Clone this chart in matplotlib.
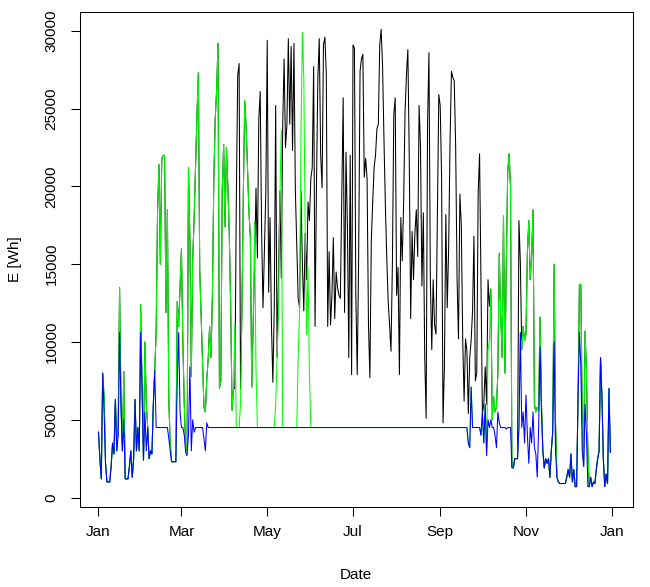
import numpy as np
import matplotlib
matplotlib.use("Agg")
import matplotlib.pyplot as plt
import matplotlib.dates as mdates

plt.rcParams['font.family'] = ['Liberation Sans', 'DejaVu Sans']

# ---- data (daily energy, thousand Wh), one value per day of the year ----
blue_k = (
    # Jan
    [4.2, 2.5, 1.2, 8.0, 5.5, 2.2, 1.0, 1.0, 1.0, 2.0, 3.5, 2.8, 6.3, 3.0, 4.0, 10.6,
     6.0, 3.0, 5.0, 1.2, 1.2, 1.2, 2.0, 3.0, 1.3, 2.5, 6.3, 3.0, 4.5, 3.0, 10.6]
    # Feb
    + [7.0, 2.4, 5.5, 3.0, 4.5, 2.5, 3.0, 2.8, 6.0, 8.2, 4.5, 4.5, 4.5, 4.5, 4.5, 4.5,
       4.5, 4.5, 4.5, 3.8, 3.0, 2.3, 2.3, 2.3, 2.3, 7.4, 10.6, 5.5]
    # Mar
    + [4.5, 4.5, 4.0, 2.9, 2.7, 4.0, 8.4, 3.0, 5.0, 4.2, 4.5, 4.5, 4.5, 4.5, 4.5, 4.5,
       3.8, 3.0, 4.8, 4.5, 4.5] + [4.5] * 10
    # Apr - Aug
    + [4.5] * 153
    # Sep
    + [4.5] * 19 + [4.5, 3.5, 3.2, 7.1, 4.5, 4.5, 4.5, 4.5, 4.5, 4.5, 4.0]
    # Oct
    + [5.5, 3.5, 6.0, 2.7, 5.0, 4.5, 5.0, 4.5, 4.5, 4.0, 3.2, 5.5, 4.8, 4.5, 4.5, 4.5,
       4.5, 4.4, 4.5, 4.5, 4.5, 1.9, 1.9, 2.5, 2.5, 2.5, 4.5, 10.6, 4.5, 5.5, 3.5]
    # Nov
    + [6.6, 4.0, 2.2, 4.5, 3.5, 5.5, 3.2, 2.8, 1.3, 4.5, 9.7, 5.5, 3.0, 1.9, 2.5, 2.2,
       2.5, 1.3, 3.0, 4.2, 10.0, 3.0, 1.3, 1.0, 0.9, 0.9, 0.9, 0.9, 0.9, 1.3]
    # Dec
    + [1.8, 1.3, 2.8, 1.0, 1.8, 0.7, 0.7, 6.3, 10.6, 8.5, 3.0, 2.0, 6.0, 4.0, 0.7, 0.7,
       1.3, 0.7, 1.0, 0.9, 1.8, 2.5, 3.0, 9.0, 6.5, 2.5, 0.7, 1.5, 0.9, 7.0, 2.9]
)

green_k = (
    # Jan
    [4.2, 2.5, 1.2, 8.0, 6.5, 2.2, 1.0, 1.0, 1.0, 2.0, 3.5, 2.8, 6.3, 3.0, 4.5, 13.5,
     6.0, 3.0, 8.1, 1.2, 1.2, 1.2, 2.0, 3.0, 1.3, 2.5, 6.3, 3.0, 4.5, 3.0, 12.4]
    # Feb
    + [7.0, 2.4, 10.0, 6.0, 4.5, 2.5, 3.0, 2.8, 6.0, 8.2, 10.6, 18.4, 21.4, 15.0, 21.8,
       22.0, 22.0, 11.9, 18.5, 6.3, 3.5, 2.3, 2.3, 2.3, 2.3, 12.6, 11.0, 13.5]
    # Mar
    + [16.0, 10.0, 6.0, 3.0, 3.0, 21.2, 16.6, 7.8, 15.3, 17.9, 21.3, 24.5, 27.3, 14.6,
       11.6, 8.4, 5.8, 5.5, 7.6, 8.9, 11.0, 9.0, 12.9, 20.4, 24.3, 26.2, 29.2, 7.0, 7.5,
       19.8, 22.7]
    # Apr
    + [17.4, 22.5, 20.0, 17.0, 12.3, 5.6, 7.0, 11.2, 4.5, 4.5, 4.5, 6.0, 12.0, 19.5,
       25.5, 23.8, 21.0, 18.4, 16.7, 7.1, 11.0, 17.7, 8.3] + [4.5] * 7
    # May
    + [4.5] * 6 + [6.0, 8.9, 12.0, 19.3, 23.6] + [4.5] * 11
    + [9.0, 12.0, 23.5, 29.9, 27.0, 17.0, 10.5, 14.8, 7.9]
    # Jun - Aug
    + [4.5] * 92
    # Sep
    + [4.5] * 19 + [4.5, 3.5, 3.2, 7.1, 4.5, 4.5, 4.5, 4.5, 4.5, 4.5, 4.0]
    # Oct
    + [5.5, 3.5, 6.0, 2.7, 9.5, 10.1, 13.4, 5.0, 6.5, 5.5, 5.8, 8.0, 15.7, 12.0, 9.0,
       18.1, 8.0, 15.0, 20.9, 22.1, 20.0, 2.0, 1.9, 2.5, 2.5, 2.5, 4.5, 10.6, 9.5, 11.0,
       10.1]
    # Nov
    + [10.5, 15.8, 17.8, 14.0, 15.5, 18.5, 6.0, 5.5, 5.8, 5.6, 11.6, 6.0, 3.0, 1.9, 2.5,
       2.2, 2.5, 1.3, 3.0, 4.2, 15.0, 4.8, 1.3, 1.0, 0.9, 0.9, 0.9, 0.9, 0.9, 1.3]
    # Dec
    + [1.8, 1.3, 2.8, 1.0, 1.8, 0.7, 0.7, 6.3, 13.7, 13.7, 5.0, 2.0, 10.7, 8.2, 3.0, 0.7,
       1.3, 0.7, 1.0, 0.9, 1.8, 2.5, 3.0, 9.0, 6.5, 2.5, 0.7, 1.5, 0.9, 7.0, 2.9]
)

black_apr_k = [17.4, 22.5, 20.0, 17.0, 12.3, 5.6, 7.0, 7.0, 19.0, 27.1, 27.9, 7.0, 12.0,
               19.5, 25.5, 23.8, 21.0, 18.4, 16.7, 7.1, 11.0, 15.0, 19.9, 15.4, 24.3,
               26.1, 17.1, 12.2, 16.0, 19.7]
black_may_k = [29.4, 13.2, 18.0, 11.1, 7.4, 12.2, 25.2, 9.0, 14.0, 19.7, 14.1, 23.9, 28.2,
               22.5, 24.0, 29.5, 24.0, 29.0, 22.3, 29.2, 19.7, 16.2, 12.8, 12.2, 19.7,
               15.0, 12.0, 17.0, 14.0, 19.0, 17.8]
black_jun_k = [20.5, 21.2, 27.7, 11.0, 20.0, 27.0, 29.5, 22.0, 19.9, 29.1, 29.6, 27.2,
               11.0, 15.8, 11.1, 13.0, 16.7, 11.5, 14.5, 13.5, 13.0, 12.8, 19.2, 25.7,
               11.9, 22.2, 17.5, 9.0, 22.0, 7.9]
black_jul_k = [29.1, 28.9, 13.0, 7.9, 15.4, 27.4, 28.2, 28.5, 20.6, 21.8, 20.5, 11.1, 7.7,
               16.5, 19.0, 21.2, 22.0, 23.7, 24.0, 29.1, 30.1, 27.8, 23.1, 18.8, 15.4,
               12.6, 11.1, 9.4, 15.0, 24.6, 25.7]
black_aug_k = [13.0, 14.8, 7.9, 18.0, 15.2, 19.0, 24.8, 27.2, 28.8, 21.8, 11.5, 17.1, 14.0,
               17.0, 18.5, 15.5, 25.2, 22.5, 13.6, 18.3, 9.0, 5.1, 24.0, 28.6, 14.0, 9.5,
               14.0, 11.1, 10.5, 18.0, 25.9]
black_sep_k = [25.2, 20.5, 4.8, 8.5, 18.2, 12.2, 16.0, 22.9, 27.4, 27.0, 26.8, 22.5, 14.0,
               10.2, 19.5, 17.5, 10.2, 6.2, 10.2, 9.4, 5.4, 9.0, 10.1, 12.0, 16.8, 7.5,
               8.0, 19.6, 22.1, 14.0]
black_oct_k = [5.4, 6.0, 8.4, 6.0, 14.0, 12.3, 13.4, 5.0, 6.5, 5.5, 5.8, 8.0, 15.7, 12.0,
               9.0, 18.1, 8.0, 15.0, 20.9, 22.1, 20.0, 2.0, 1.9, 2.5, 2.5, 2.5, 17.8, 15.1,
               9.5, 11.0, 10.1]
# Jan-Mar and Nov-Dec of the black series lie exactly under the green line
black_k = (green_k[:90] + black_apr_k + black_may_k + black_jun_k + black_jul_k
           + black_aug_k + black_sep_k + black_oct_k + green_k[304:])

month_ticks = ['2015-01-01', '2015-03-01', '2015-05-01', '2015-07-01',
               '2015-09-01', '2015-11-01', '2016-01-01']
month_labels = ['Jan', 'Mar', 'May', 'Jul', 'Sep', 'Nov', 'Jan']
y_ticks = [0, 5000, 10000, 15000, 20000, 25000, 30000]

assert len(blue_k) == 365 and len(green_k) == 365 and len(black_k) == 365

dates = np.datetime64('2015-01-01') + np.arange(365)
xnum = mdates.date2num(dates.astype('datetime64[D]').astype(object))
blue = np.array(blue_k) * 1000
green = np.array(green_k) * 1000
black = np.array(black_k) * 1000

fig = plt.figure(figsize=(6.5, 5.87), dpi=100)
ax = fig.add_axes([79.5 / 650, (587 - 506.5) / 587, 553.5 / 650, 494.5 / 587])

lw = 0.75
ax.plot(xnum, black, color='black', lw=lw)
ax.plot(xnum, green, color='#00FF00', lw=lw)
ax.plot(xnum, blue, color='#0000FF', lw=lw)

x0 = mdates.date2num(np.datetime64('2015-01-01').astype(object))
ax.set_xlim(x0 - 13.5, x0 + 380.1)
ax.set_ylim(-578, 31214)

tick_pos = [mdates.date2num(np.datetime64(t).astype(object)) for t in month_ticks]
ax.set_xticks(tick_pos)
ax.set_xticklabels(month_labels)
ax.set_yticks(y_ticks)
ax.set_yticklabels([str(v) for v in y_ticks], rotation=90, va='center')

fs = 11
ax.tick_params(axis='both', direction='out', length=6.7, width=0.75,
               labelsize=fs, colors='black')
ax.tick_params(axis='x', pad=6.5)
ax.tick_params(axis='y', pad=8.5)
for s in ax.spines.values():
    s.set_linewidth(0.75)
    s.set_color('black')

ax.set_xlabel('Date', fontsize=fs, labelpad=21)
ax.set_ylabel('E [Wh]', fontsize=fs, labelpad=16)

fig.savefig('out.png', dpi=100, facecolor='white')
